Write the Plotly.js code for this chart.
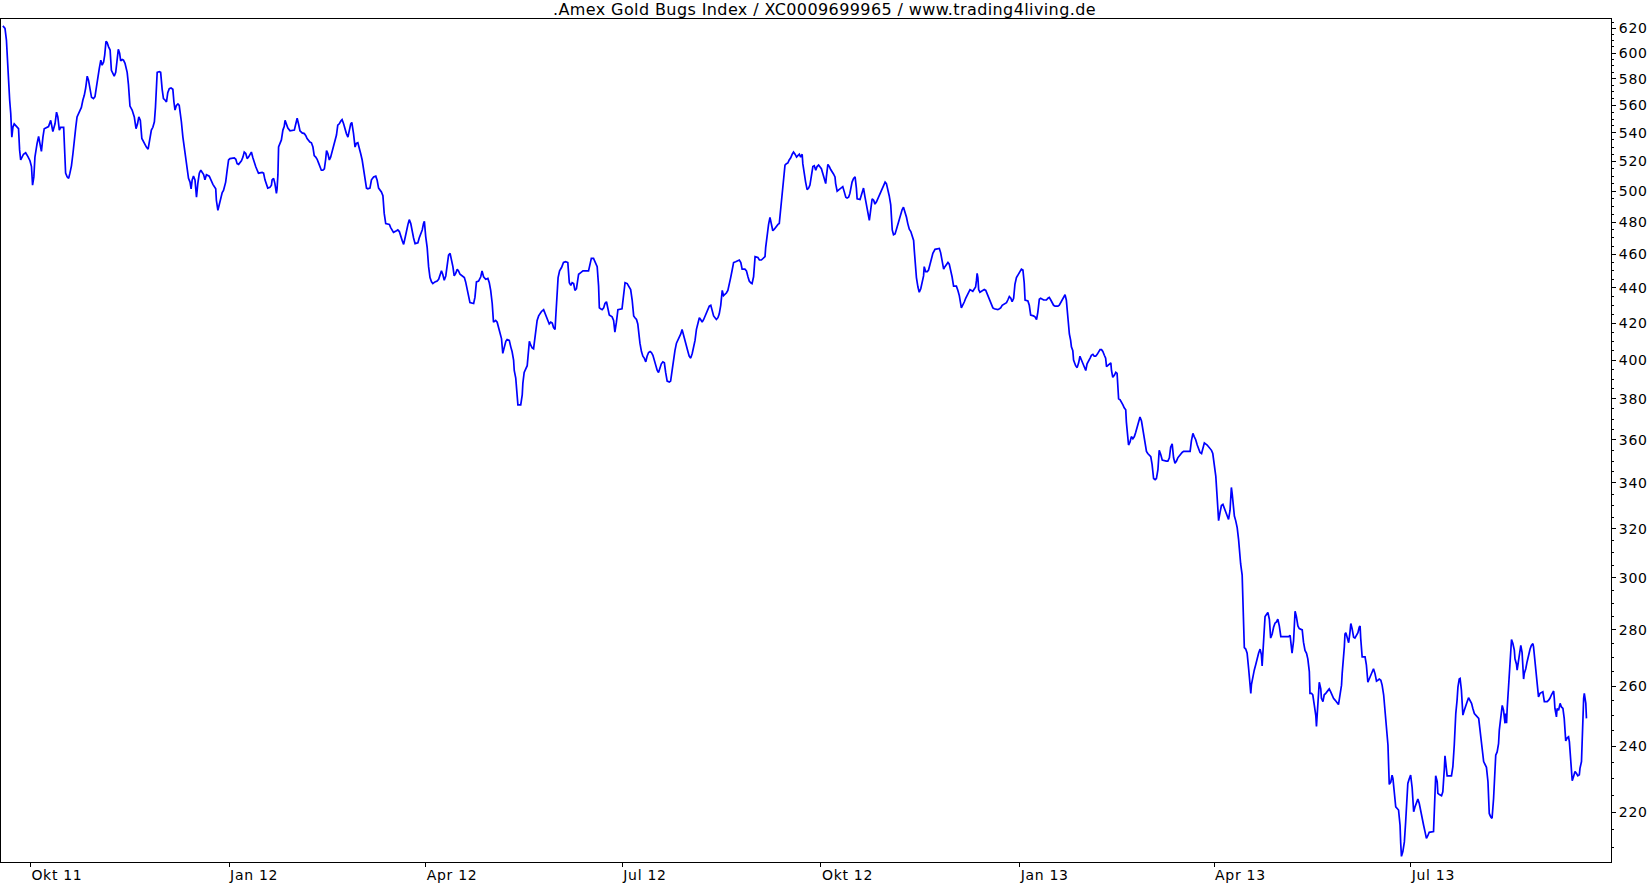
<!DOCTYPE html>
<html><head><meta charset="utf-8">
<script src="https://cdn.plot.ly/plotly-3.0.1.min.js"></script>
<style>html,body{margin:0;padding:0;background:#fff;overflow:hidden}#chart{width:1649px;height:885px}
#chart .xtick text,#chart .ytick text{letter-spacing:0.7px}
#chart .gtitle{letter-spacing:0.4px}</style>
</head><body><div id="chart"></div>
<script>
// x: calendar days since 2011-10-01; y: index level
const dayOffsets = [
-12.75,-11.76,-11.1,-10.44,-10.1,-9.6,-9.1,-8.6,-8.1,-7.5,-6.1,-5.5,-5.0,-4.5,-3.2,-2.2,-1.2,-0.2,0.5,1.0,
1.6,2.1,3.1,3.8,4.4,5.1,5.8,6.4,8.4,9.4,10.4,11.4,12.1,12.7,13.4,14.0,15.4,15.7,16.3,17.0,
17.7,18.3,19.0,19.7,20.3,21.0,21.6,22.6,23.6,24.3,24.95,25.6,26.3,26.9,27.6,28.3,29.2,29.9,30.6,31.2,
31.9,32.6,33.2,33.9,34.4,35.0,35.5,36.2,36.9,37.5,38.2,38.8,39.5,40.2,40.7,41.3,41.8,42.5,43.1,43.8,
44.8,45.4,46.1,47.1,48.1,48.9,49.6,50.2,50.9,51.6,52.2,53.7,54.5,55.4,56.0,56.7,57.4,57.9,58.35,58.7,
59.7,60.3,61.0,61.6,62.3,63.0,63.6,64.3,65.1,65.95,66.45,66.95,67.6,68.3,68.9,69.4,69.9,70.6,71.2,71.9,
72.6,73.2,73.9,74.4,74.9,75.5,76.2,76.9,77.5,78.2,78.9,80.2,80.8,81.5,82.8,83.5,84.5,85.8,86.1,86.8,
87.4,88.1,88.8,89.4,89.8,90.4,91.1,91.75,92.4,94.4,95.1,95.7,96.4,97.7,98.4,99.0,99.7,100.35,101.0,102.3,
103.0,103.7,104.3,105.0,105.6,107.3,107.95,108.6,109.3,109.9,110.9,111.6,111.9,112.6,113.2,113.9,114.2,114.6,114.9,115.6,
116.2,116.9,117.5,117.9,118.5,119.2,120.2,122.2,122.8,123.5,124.2,124.8,125.8,126.8,127.5,128.1,129.4,130.1,130.8,131.4,
132.1,132.75,133.4,134.1,134.7,135.4,136.1,136.7,137.1,137.7,138.4,139.0,139.7,140.4,141.0,141.7,142.3,143.0,143.7,144.3,
145.0,145.65,146.3,147.0,147.6,148.3,148.8,149.3,149.6,150.3,150.9,151.6,152.3,152.9,153.6,154.25,154.9,155.6,156.2,157.2,
157.9,158.9,159.9,160.5,161.2,161.9,162.5,163.2,163.8,164.5,166.2,166.8,167.5,168.1,169.5,170.1,170.8,171.4,172.1,172.8,
173.4,174.1,174.8,175.4,176.1,176.7,177.4,178.1,179.4,180.0,180.7,181.4,182.0,182.4,183.0,183.7,184.35,185.0,185.7,186.3,
187.3,188.3,189.0,189.6,190.3,190.9,191.6,192.3,192.9,193.6,194.3,194.9,195.6,196.2,196.9,197.6,198.2,198.9,200.2,200.9,
201.5,202.2,202.85,203.5,205.2,205.8,206.5,207.5,208.5,209.1,209.8,210.8,211.8,212.45,213.1,213.8,214.4,215.4,216.1,216.75,
217.4,218.1,218.7,219.4,220.1,220.7,221.7,222.4,223.0,223.7,224.0,224.7,225.0,225.3,225.7,227.0,227.7,228.0,228.6,230.0,
230.3,231.0,231.6,232.3,232.95,233.6,234.3,234.6,235.3,236.6,237.6,238.2,238.9,239.6,240.2,240.9,241.6,242.2,242.9,243.2,
243.5,243.9,244.3,245.0,245.9,246.8,247.8,248.8,249.5,250.2,250.8,251.5,252.1,252.8,253.5,253.8,254.8,255.8,258.4,259.1,
259.7,260.7,261.7,262.4,263.05,263.4,264.0,264.7,265.4,266.0,266.7,267.3,268.0,268.7,269.3,270.0,270.6,271.3,272.0,273.9,
274.6,275.3,276.3,277.3,277.9,278.6,279.3,279.9,280.6,281.2,281.6,282.2,282.9,283.55,284.2,284.9,285.5,286.2,286.9,287.5,
288.2,288.8,289.5,290.2,290.8,291.5,292.1,292.8,293.5,294.1,294.8,295.8,296.4,297.1,297.8,298.4,299.1,299.75,300.4,301.1,
301.7,302.4,303.1,303.7,304.4,305.0,305.7,306.4,307.0,307.7,308.35,309.0,309.7,310.3,311.0,311.7,312.3,313.0,313.6,314.3,
315.0,315.6,316.3,316.95,317.6,318.3,318.9,319.6,319.9,320.3,320.9,322.2,322.9,323.6,324.2,324.9,325.55,326.5,328.2,328.9,
329.5,330.8,331.5,332.2,332.8,333.5,334.1,334.8,335.1,335.5,336.8,337.5,338.4,339.4,340.1,340.4,341.1,341.75,342.4,343.1,
343.7,344.4,345.1,346.1,346.7,347.4,348.05,348.7,349.35,350.0,350.7,351.3,352.0,352.7,353.3,354.0,354.7,355.3,356.0,356.6,
357.3,357.6,358.3,358.9,359.6,360.3,360.9,361.6,362.25,362.9,363.6,364.2,364.9,366.2,366.9,367.5,368.2,368.5,369.2,369.9,
370.5,371.8,372.5,372.8,373.5,374.8,375.5,376.1,376.8,377.5,378.1,378.8,379.4,379.8,380.4,381.1,381.8,382.4,382.75,384.1,
384.7,385.4,385.7,386.4,387.1,387.7,388.4,389.0,389.7,390.4,391.0,391.7,392.35,393.0,393.7,394.3,395.0,395.7,396.3,397.0,
397.6,398.3,399.0,399.6,400.3,400.95,401.6,402.3,402.9,403.6,404.2,404.9,405.6,406.2,406.9,407.6,408.2,408.9,409.2,409.5,
409.9,410.2,410.9,411.5,412.2,412.85,413.5,413.8,414.5,415.2,415.8,416.5,417.1,417.8,418.8,420.8,421.4,422.1,422.8,423.4,
424.8,425.4,426.1,426.7,427.4,428.7,429.4,430.05,431.0,431.7,432.4,433.0,434.3,435.0,436.3,437.0,437.6,438.0,438.3,438.65,
439.0,439.6,441.0,441.6,442.3,442.9,443.6,444.3,444.9,445.6,446.25,447.9,448.6,449.2,449.9,451.2,451.9,452.5,453.2,453.9,
454.5,455.2,455.8,456.5,457.5,458.2,458.8,459.5,460.1,460.5,461.8,462.45,463.1,464.4,465.1,465.8,466.4,467.1,467.7,469.1,
470.4,471.1,471.7,472.4,473.0,473.7,474.4,475.7,476.35,477.0,477.7,478.3,479.0,479.6,480.0,480.3,481.0,481.6,481.95,482.6,
482.95,483.9,484.6,485.3,485.9,486.6,487.3,487.9,488.6,489.2,489.9,490.6,491.2,491.9,492.5,493.2,493.9,494.5,495.2,495.9,
496.5,497.2,497.8,498.2,498.8,499.5,500.2,500.5,501.1,501.8,502.5,503.1,503.5,503.8,504.5,505.1,505.8,506.4,507.1,507.4,
507.8,508.4,509.1,509.7,510.4,511.1,511.7,512.4,513.1,513.7,514.4,515.0,515.7,516.0,516.7,517.3,518.0,518.7,519.3,519.7,
520.0,520.7,521.3,522.0,522.6,523.3,524.0,525.9,526.6,527.3,527.9,528.6,529.25,529.9,530.6,531.2,531.9,532.6,533.2,533.9,
536.9,537.5,538.2,538.8,539.5,540.2,540.8,541.5,542.2,542.8,543.5,544.8,546.1,546.8,547.4,548.1,548.8,549.4,550.1,550.75,
551.4,552.1,552.7,553.4,554.1,554.7,555.4,556.0,556.4,557.0,557.4,558.0,558.7,559.35,559.7,560.3,561.0,561.3,561.7,562.0,
562.65,563.3,564.0,564.6,565.0,565.3,566.0,566.6,567.3,567.9,568.6,569.3,569.9,570.25,570.6,571.2,571.6,572.9,573.6,574.2,
574.9,575.55,576.2,576.9,577.5,578.2,578.9,579.9,582.5,583.2,583.5,584.1,584.8,585.1,585.5,586.1,586.8,587.45,588.8,589.4,
590.1,590.8,591.4,592.1,592.4,593.1,593.7,594.4,595.1,595.4,595.7,596.05,596.7,597.4,597.7,598.4,599.0,599.7,600.4,601.3,
602.0,602.7,603.3,604.0,604.65,605.6,606.3,607.0,607.3,607.95,608.3,608.6,609.0,609.6,610.3,610.9,611.3,611.9,612.6,613.2,
613.9,614.6,615.2,615.6,615.9,616.55,617.9,618.5,619.2,619.9,620.5,621.2,621.8,622.5,623.2,623.8,624.5,625.2,625.8,626.5,
627.1,627.8,628.5,628.8,629.1,629.8,630.4,630.8,631.1,631.45,632.1,633.4,634.1,634.4,634.75,635.4,636.1,636.7,637.4,637.7,
638.4,639.0,639.7,640.4,641.0,641.7,642.35,643.0,643.7,644.3,645.0,645.65,646.3,647.0,647.6,649.6,650.0,650.3,650.6,651.3,
651.6,652.3,653.3,653.9,654.3,654.6,654.9,655.6,655.9,657.9,658.55,659.2,659.5,659.9,660.5,660.9,661.5,661.9,662.5,663.2,
663.85,664.5,665.2,665.8,666.5,667.2,667.8,668.5,670.5,670.8,671.45,672.1,672.8,673.4,674.1,674.8,675.1,675.4,676.1,676.7,
677.4,678.05,678.4,679.05,679.7,680.05,680.7,681.0,681.4,682.0,682.7,683.0,683.4,683.7,684.35,684.7,685.3,685.7,686.3,687.0,
687.3,688.0,688.3,689.0,689.6,690.0,690.6,691.3,691.6,692.3,692.9,693.6,694.3,694.9,695.6,695.9,696.25,696.6,697.2,697.6,
698.2,698.9,700.2,700.9,702.2,702.9,703.5,704.2,704.85,705.2,705.5,705.8,706.5,706.8,707.5,708.2,708.8,709.5,710.1,710.5,
710.8,711.5,712.1,712.5,712.8,713.45,713.8,714.4,715.1,715.8,716.4,717.1,717.4,718.1,718.4,718.7,719.1,719.4,719.7,720.1,
720.4
];
const indexValues = [
622,620,610.5,594.5,579,564,554,537,544,546.5,544,543,528,521,525,526,523.5,520.5,516.5,504,
509.5,523,532.5,537.5,532.5,527,537,543,544.5,549,541,546.5,555,551.5,542,544,544,534,512,509.5,
508.5,512,517,525.5,537,544,551.5,555,558.5,564,567.5,573,582,579,571.5,566,565,566.5,574,581.5,
588,594.5,590.5,593,598.5,609.5,608.5,605,602.5,586.5,583.5,582,585,597,603,600,594,595,594.5,592,
585,575.5,559.5,556.5,551.5,543,546.5,551.5,549,536,534,530,528.5,536,542,544,548,558.5,574,585,
585.5,585,572,565,564,562.5,569.5,572.5,573,572,562.5,556.5,560,561,560,555,548,537,530,521,
514,508.5,506,501.5,507.5,510,507.5,496,505,512,514,511,507.5,511,510,507.5,504.5,501.5,494,487.5,
491,496.5,499,500.5,503.5,506,514,521,522,522.5,521.5,518.5,518,520.5,523,526.5,525.5,522,523,526.5,
522.5,518.5,516.5,514,512,512.5,512,507.5,504,502,502.5,504,507.5,508.5,505,498.5,501.5,511,530,532.5,
535,542,544.5,549,546.5,543.5,541.5,542,546,550.5,546,541.5,540,539.5,538,536,533.5,533,530,524,
523,521.5,519,515.5,514,514,515,521.5,527.5,525.5,521,523,526.5,530.5,534,538.5,545.5,546.5,548.5,549.5,
546.5,542,539.5,537,542,546.5,547.5,544,539.5,530,532.5,533,529.5,525.5,521,514,509.5,502,501.5,502,
507.5,509.5,510,507.5,502,500.5,499.5,497,485.5,479,478.5,476.5,474.5,473.5,474.5,475,474,472,468.5,466,
469,474,478.5,481.5,479,474,470,466.5,467,470,472,475,479,480.5,471,464,452.5,446,443.5,442.5,
443.5,444,445,448,450,448,444.5,447,452.5,459.5,460.5,457.5,452.5,447,448.5,451,450,448,447,446,
443.5,439,435.5,431.5,431,434.5,443.5,444,446.5,450,446.5,445,445.5,443,438.5,431,420.5,421.5,420.5,417.5,
416,411.5,403.5,407,410,411,410.5,407,404.5,400,394.5,390.5,386,381,377,377,382,388,393.5,397,
400,410,408,406.5,406,411.5,416.5,421.5,424,426.5,427.5,425.5,423,420.5,419.5,420.5,420,417.5,416.5,423,
431,436,446,450,452,455,455.5,455,443,441.5,443,442.5,438.5,439.5,446,448,449,450,450,454,
457.5,457.5,454,452.5,441,428.5,428,427.5,428.5,431,432,428,424.5,424,423.5,421.5,415,420.5,427.5,428,
435,443,442.5,440.5,439,433,424,423,422,419.5,414,409,404.5,402,401,399,402,404,404.5,404,
402.5,400,397,394.5,393.5,396.5,398,399,398.5,393.5,389,388.5,389,394.5,402,405,409,410.5,412.5,414,
416.5,413,410,407,404.5,402,401,403.5,407,410.5,416.5,420.5,423,422,420.5,422,424,426,428,429.5,
430,427,424,423,422,423,425,430,435,438.5,435.5,437,438.5,442,446,450.5,455,455.5,456.5,455,
451,451,450,446.5,444,443,442.5,446.5,452.5,458.5,458,456.5,456.5,457.5,458.5,464,472,478.5,483,479,
474.5,475.5,477,478.5,479,488.5,500.5,507.5,517.5,518.5,519,521,522.5,525,526.5,525,523,524,525,523,
525,518.5,509.5,506,501,502,504,509.5,516.5,517,514,516.5,517.5,515,512,508.5,505,509.5,518,516.5,
514.5,511.5,509.5,505,500,501.5,502.5,503,499.5,496,495.5,496,498.5,502,506,508.5,509.5,502,495,494.5,
497,500.5,502,496,490,485.5,481,487.5,495,494,491.5,493,495,497,499.5,501.5,504,506,505,501.5,
497,491,475,472,472.5,475.5,478.5,482,485.5,488,489.5,486.5,483,479,475.5,474,471,468.5,462.5,456.5,
450.5,446,440.5,437.5,439.5,443.5,447,452.5,449.5,449.5,450.5,454,457.5,460.5,463,463.5,461,455,451,452.5,
455,454,450.5,446.5,441,441,438.5,435.5,428.5,430,432,434,437,439,438,439,440.5,444.5,448.5,446,
439,437.5,438.5,439,438.5,436.5,434,432,430.5,428.5,428,427.5,428,428.5,430,431,431.5,433,435,434,
432,434,442,446,448,449.5,451,450.5,443,433,432.5,430,424.5,424,423.5,422,426,433.5,434,433,
433,434,434.5,433,431.5,430,429.5,429.5,430,431.5,433.5,435,436,433,427,419.5,414,410.5,407,405,
400,397,396,398.5,402,400,398,396.5,394.5,398,400,401,402.5,403,402,402,403,404.5,405.5,405.5,
404.5,402.5,401,396.5,397,398,398.5,394.5,391,392,393.5,393,387.5,380,379.5,378.5,377,375.5,374.5,368.5,
363.5,357.5,359,361.5,360.5,361.5,363.5,366,368.5,371,369,364.5,360.5,357.5,354.5,353.5,352.5,352,348.5,345,
342,341.5,342,346,355,353,350.5,350,350,351.5,356.5,358,351.5,349,350,351.5,352.5,353,354,354.5,
354.5,359.5,363,361.5,360,357.5,355.5,354,353.5,356,358.5,357.5,356,355,353.5,349,343,334,323.5,327,
330,330.5,329,327,325,324,328,338,335,330,325.5,323.5,320.5,315.5,311,305.5,301,293.5,282.5,273.5,
273,271.5,266,262,257.5,260.5,263.5,265.5,267.5,269.5,271.5,273,271,267,273,279,285,286.5,284,277,
278.5,281,282.5,283,284,281.5,277.5,277.5,277.5,278,275.5,271.5,276,280.5,287,285,281.5,280.5,280,275.5,
272.5,271.5,269.5,265,257.5,257.5,257,253.5,250,246.5,250,255.8,261.3,259,255.8,254.7,257,257.5,258,259,
258,256.5,255.8,255.2,254.7,253.7,257,260.3,264.3,269,273.8,278.5,279,277.3,275.3,279,282.4,280.5,277.3,277,
278,279,281,281.4,276.8,270.2,270.2,267.4,261.3,262.4,263.5,264.6,266,264.3,261.7,262,262.4,262,260.3,257,
252.4,246.8,240.5,234.2,228.3,229,231.1,230.1,228,224.9,221.6,220.7,216.3,211.3,207.6,208.9,211.6,217.3,224.1,228.6,
230.1,231.1,227.3,220.2,221.6,222.6,223.9,222.6,220.2,217.8,216.3,214.5,212.6,213.4,214.3,214.5,219.7,225.6,230.9,229.1,
225.6,225.3,224.9,226.1,229.1,233,237.1,233.4,230.9,230.9,233.7,240.5,245.3,250.7,255.2,259.6,262.4,262.6,258.6,250.2,
251.8,252.9,254.7,256,255.2,254.1,252.4,250.7,249.1,246.8,243.6,239.4,235.3,234.3,233.5,229.1,224.1,219.7,218.7,218.3,
224.1,230.6,237.3,238.3,240.9,245.3,248.5,251.2,253.4,251.8,247.5,250.7,247.5,252.4,260.3,265.5,271.7,276.5,275.1,272.6,
269.5,267.6,265.5,269.5,273.7,274.3,271.7,262.4,264.3,266,268.4,271,273,274.3,275,273.8,271,266.8,263,260.3,
256.3,257.5,258,254.7,254.7,255.2,255.8,257,257.8,258.3,255.8,252.4,249.6,252.4,251.8,254.1,252.9,252.4,249.1,244.7,
241.8,242.8,243.1,241.5,237.8,233.2,229.4,230.6,232.2,231.6,230.9,231.2,233.2,235.3,242.6,249.1,255.8,257.5,255.8,254.1,
249.1
];
const xTickDates = ['2011-10-01','2012-01-01','2012-04-01','2012-07-01','2012-10-01','2013-01-01','2013-04-01','2013-07-01'];
const xTickLabels = ['Okt 11','Jan 12','Apr 12','Jul 12','Okt 12','Jan 13','Apr 13','Jul 13'];
const yTickValues = [220,240,260,280,300,320,340,360,380,400,420,440,460,480,500,520,540,560,580,600,620];
const titleText = '.Amex Gold Bugs Index / XC0009699965 / www.trading4living.de';

const baseMs = Date.UTC(2011, 9, 1);
function toDate(d) {
  return new Date(baseMs + d * 86400000).toISOString().replace('T', ' ').replace('Z', '');
}
const xDates = dayOffsets.map(toDate);
const minorVals = [];
for (let v = 210; v <= 625; v += 5) { if (v % 20 !== 0) minorVals.push(v); }

const trace = {
  x: xDates, y: indexValues, type: 'scatter', mode: 'lines',
  line: {color: '#0000ff', width: 1.7}, hoverinfo: 'skip'
};
const fontFam = '"DejaVu Sans", Verdana, sans-serif';
const layout = {
  width: 1649, height: 885,
  margin: {l: 1, r: 38, t: 19, b: 23, pad: 0},
  paper_bgcolor: '#ffffff', plot_bgcolor: '#ffffff',
  showlegend: false,
  font: {family: fontFam, size: 14, color: '#000'},
  title: {text: titleText, font: {family: fontFam, size: 16, color: '#000'},
          x: 0.5, xref: 'container', xanchor: 'center',
          y: 1 - 9.5 / 885, yref: 'container', yanchor: 'middle'},
  xaxis: {
    type: 'date', range: [toDate(-13.61), toDate(731.76)],
    tickmode: 'array', tickvals: xTickDates, ticktext: xTickLabels,
    ticks: 'outside', ticklen: 4, tickwidth: 1, tickcolor: '#000',
    ticklabelposition: 'outside right',
    showline: true, linecolor: '#000', linewidth: 1, mirror: true,
    showgrid: false, zeroline: false, fixedrange: true,
    tickfont: {family: fontFam, size: 14, color: '#000'}
  },
  yaxis: {
    type: 'log', side: 'right',
    range: [Math.log10(206.05), Math.log10(627.7)],
    tickmode: 'array', tickvals: yTickValues, ticktext: yTickValues.map(String),
    ticks: 'outside', ticklen: 4, tickwidth: 1, tickcolor: '#000',
    minor: {tickmode: 'array', tickvals: minorVals, ticks: 'outside', ticklen: 2, tickwidth: 1, tickcolor: '#000', showgrid: false},
    showline: true, linecolor: '#000', linewidth: 1, mirror: true,
    showgrid: false, zeroline: false, fixedrange: true,
    tickfont: {family: fontFam, size: 14, color: '#000'}
  }
};
Plotly.newPlot('chart', [trace], layout, {staticPlot: true, displayModeBar: false});
</script>
</body></html>
